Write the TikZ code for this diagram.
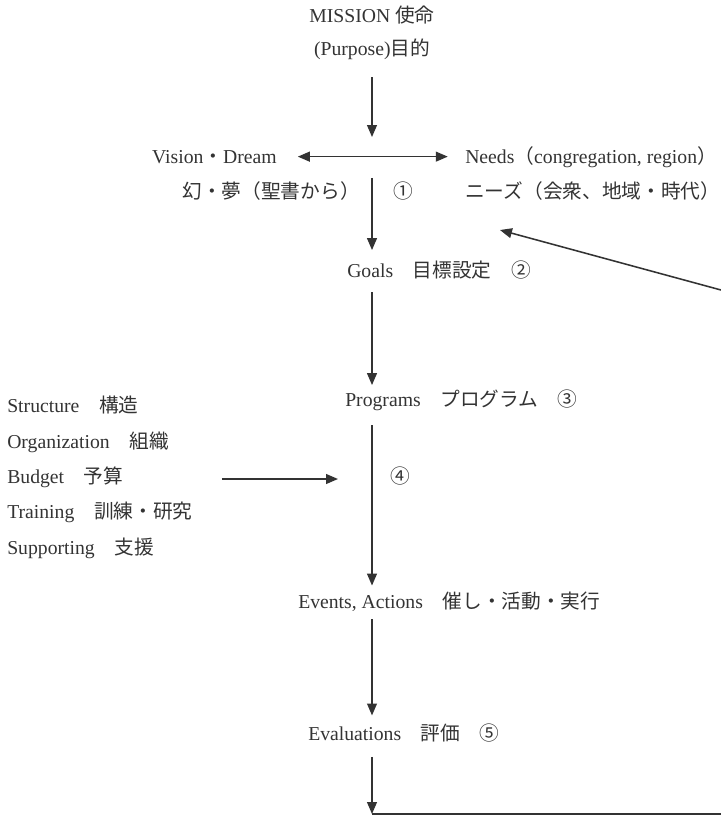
\documentclass[tikz,border=0pt]{standalone}
\usepackage{fontspec}
\setmainfont{Liberation Serif}
\newfontfamily\jpfont{Noto Sans CJK JP}
\newcommand{\ja}[1]{{\jpfont #1}}
\usetikzlibrary{arrows.meta,calc}
\definecolor{ink}{HTML}{333333}

\begin{document}
\begin{tikzpicture}[
  x=0.025cm, y=-0.025cm,
  font=\fontsize{14}{17}\selectfont,
  >={Triangle[length=8.5pt,width=7pt]},
  % Shared text style; every label sits on its baseline
  stage/.style={inner sep=0pt, text=ink, anchor=base},
  stageleft/.style={stage, anchor=base west},
  flow/.style={draw=ink, line width=1.1pt},
]

% Frame of the picture (pixel grid of the reference)
\useasboundingbox (0,0) rectangle (721,817);

% ---------------------------------------------------------------
% Top: mission and purpose
% ---------------------------------------------------------------
\node[stage] (mission) at (372,22) {MISSION \ja{使命}};
\node[stage] (purpose) at (372,55) {(Purpose)\ja{目的}};

\coordinate (hub)    at (372,157);
\coordinate (hubtop) at (372,137);

% ---------------------------------------------------------------
% Vision / Needs row
% ---------------------------------------------------------------
\node[stage, anchor=base east] (vision) at (277,163) {Vision\ja{・}Dream};
\node[stageleft] (needs) at (465,163)
  {Needs\ja{（}congregation, region\ja{）}};
\node[stage, anchor=base east] (visionjp) at (360,198) {\ja{幻・夢（聖書から）}};
\node[stage] (one) at (403,198) {\ja{①}};
\node[stageleft] (needsjp) at (465,198) {\ja{ニーズ（会衆、地域・時代）}};

% ---------------------------------------------------------------
% Main column
% ---------------------------------------------------------------
\node[stageleft] (goals)    at (347,277) {Goals\quad\ja{目標設定}\quad\ja{②}};
\node[stageleft] (programs) at (345,406) {Programs\quad\ja{プログラム}\quad\ja{③}};
\node[stage]     (four)     at (400,483) {\ja{④}};
\node[stageleft] (events)   at (298,608) {Events, Actions\quad\ja{催し・活動・実行}};
\node[stageleft] (evals)    at (308,740) {Evaluations\quad\ja{評価}\quad\ja{⑤}};

% Resources on the left
\foreach \en/\kanji [count=\i] in {Structure/構造, Organization/組織,
    Budget/予算, Training/訓練・研究, Supporting/支援}
  \node[stageleft] (res\i) at (7,{377.6+35.3*\i}) {\en\quad\ja{\kanji}};

% ---------------------------------------------------------------
% Connectors
% ---------------------------------------------------------------
\draw[flow, ->, shorten <=0.45cm] (purpose.south) -- (hubtop);
\draw[flow, <->, shorten <=0.52cm, shorten >=0.43cm] (vision.east) -- (needs.west |- vision.east);
\draw[flow, ->, shorten <=0.52cm, shorten >=0.25cm] (hub) -- (hub |- goals.north);
\draw[flow, ->, shorten <=0.33cm, shorten >=0.1cm] (hub |- goals.south) -- (hub |- programs.north);
\draw[flow, ->, shorten <=0.37cm, shorten >=0.14cm] (hub |- programs.south) -- (hub |- events.north);
\draw[flow, ->, shorten <=0.2cm, shorten >=0.19cm] (hub |- events.south) -- (hub |- evals.north);

% resources feed into the programs step
\coordinate (feedin) at (338,479);
\draw[flow, ->, shorten <=0.73cm] (res4.east |- feedin) -- (feedin);

% return loop (runs off the right edge)
\coordinate (corner)   at (372,814);
\coordinate (loopout)  at (721,814);
\coordinate (loopin)   at (721,290);
\coordinate (needsarr) at (500,230);
\draw[flow, ->, shorten <=0.37cm] (hub |- evals.south) -- (corner);
\draw[flow] (corner) -- (loopout);
\draw[flow, ->] (loopin) -- (needsarr);

\end{tikzpicture}
\end{document}
